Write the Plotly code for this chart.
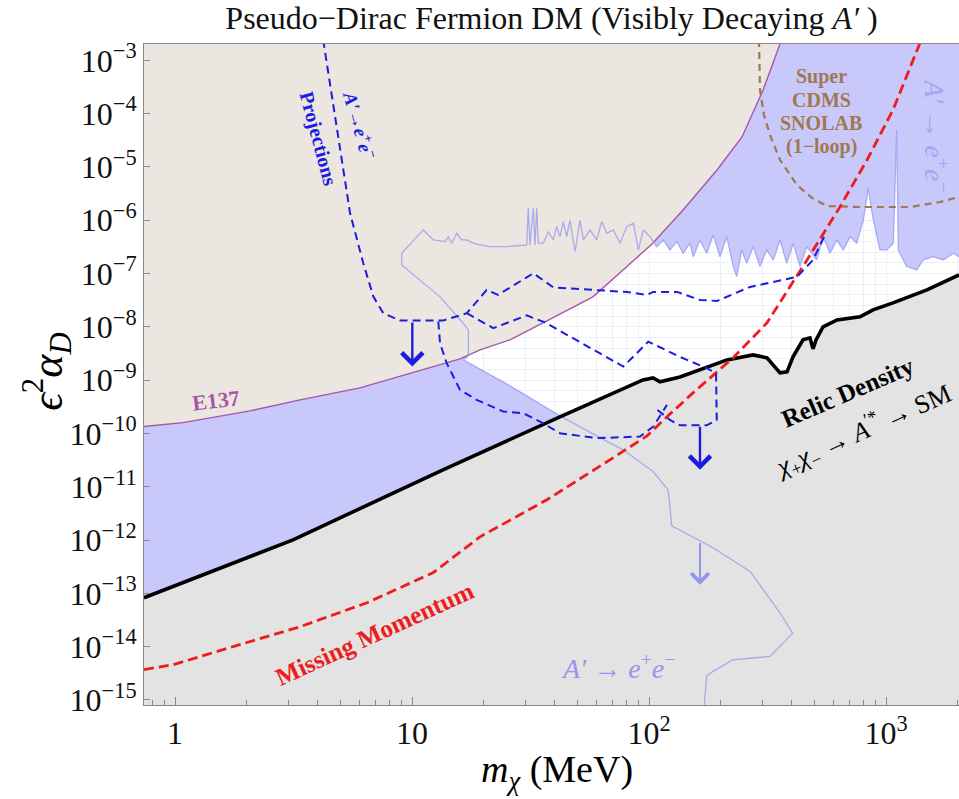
import math
import plotly.graph_objects as go

# ---------------- data (m_chi in MeV, y = eps^2 alpha_D) ----------------
# Relic density target (thick black)
relic_m = [0.740, 3.148, 13.51, 19.36, 42.1, 94.3, 104.0, 111.3, 135.1, 213.4, 274.7, 314.7, 357, 382.2,
           405.2, 446.4, 477.9, 492, 506.6, 542.4, 621.3, 776.9, 881.4, 1070, 1489, 2032]
relic_y = [8.26e-14, 1.01e-12, 2.08e-11, 4.33e-11, 2.05e-10, 1.01e-9, 1.10e-9, 9.29e-10, 1.15e-9, 2.40e-9,
           2.98e-9, 2.62e-9, 1.37e-9, 1.43e-9, 2.73e-9, 5.70e-9, 6.21e-9, 3.86e-9, 5.70e-9, 1.0e-8,
           1.35e-8, 1.54e-8, 2.08e-8, 2.81e-8, 4.93e-8, 9.42e-8]

# E137 limit
e137_m = [0.740, 1.081, 2.073, 3.37, 6.03, 10.1, 15.94, 19.36, 25.9, 35.7, 58.0, 77.7, 103.0, 139.2,
          193.6, 246.9, 303, 357]
e137_y = [1.35e-10, 1.60e-10, 2.65e-10, 4.27e-10, 7.16e-10, 1.37e-9, 2.51e-9, 3.70e-9, 5.70e-9, 1.19e-8,
          3.65e-8, 1.17e-7, 3.59e-7, 1.56e-6, 8.77e-6, 3.65e-5, 2.77e-4, 2.02e-3]

# Missing momentum projection (red dashed)
mm_m = [0.740, 0.981, 1.757, 3.37, 6.46, 12.27, 19.36, 37.1, 70.5, 98.1, 119.1, 153.3, 226.2, 314.7,
        464.2, 639.5, 831.4, 1070, 1391]
mm_y = [3.71e-15, 4.59e-15, 1.0e-14, 2.37e-14, 6.68e-14, 2.44e-13, 1.15e-12, 5.70e-12, 3.49e-11,
        9.02e-11, 2.05e-10, 5.77e-10, 2.62e-9, 1.19e-8, 1.80e-7, 1.78e-6, 1.35e-5, 1.17e-4, 2.11e-3]

# SuperCDMS SNOLAB (1-loop) (brown dashed)
cdms_m = [291.1, 294.0, 305.7, 324.0, 357, 421.3, 487.3, 563.8, 776.9, 1263, 1690, 2032]
cdms_y = [2.4e-3, 2.77e-4, 9.42e-5, 3.97e-5, 1.35e-5, 4.59e-6, 2.62e-6, 1.85e-6, 1.77e-6, 1.77e-6,
          2.20e-6, 2.73e-6]

# Existing A' -> e+e- constraint boundary (light blue)
bound_m = [170.7, 175.2, 186.2, 226.2, 324.0, 403.9, 357.0, 266.9, 186.2, 124.7, 121.8, 120.3, 104.0,
           77.7, 58.0, 42.1, 25.9, 16.47, 17.29, 17.29, 16.21, 13.13, 9.05, 9.05, 11.16, 12.30, 13.78,
           14.23, 14.71, 15.44, 16.21, 17.02, 18.14, 19.36, 21.34, 25.10, 30.48, 30.95, 31.47, 32.50,
           33.04, 33.59, 34.12, 35.81, 37.59, 39.46, 40.78, 42.1, 43.49, 44.96, 46.42, 48.73, 51.16,
           52.82, 56.37, 60.15, 63.15, 66.30, 70.70, 75.44, 80.52, 85.86, 90.13, 94.6, 101.0, 107.8,
           114.9, 122.6, 130.9, 139.6, 148.9, 153.8, 164.1, 175.2, 186.7, 199.4, 212.8, 226.9, 234.4,
           246.1, 258.4, 275.5, 294.0, 313.8, 334.6, 357.0, 381.1, 406.3, 433.6, 462.9, 510.2, 543.7,
           580.4, 619.5, 660.3, 704.8, 752.1, 802.1, 842.1, 883.9, 943.4, 1007, 1074, 1109, 1127,
           1223, 1347, 1437, 1584, 1745, 1923, 2032]
bound_y = [7e-16, 2.85e-15, 3.44e-15, 5.69e-15, 6.56e-15, 1.80e-14, 4.33e-14, 2.58e-13, 7.16e-13,
           1.85e-12, 5.69e-12, 8.77e-12, 1.93e-11, 4.93e-11, 9.84e-11, 2.14e-10, 7.82e-10, 2.40e-9,
           2.85e-9, 8.77e-9, 1.26e-8, 3.65e-8, 1.45e-7, 2.40e-7, 6.58e-7, 4.27e-7, 3.97e-7, 4.92e-7,
           3.71e-7, 5.70e-7, 4.27e-7, 4.27e-7, 3.71e-7, 3.44e-7, 3.20e-7, 3.20e-7, 3.44e-7, 1.68e-6,
           3.44e-7, 1.68e-6, 3.44e-7, 1.68e-6, 3.71e-7, 3.71e-7, 6.11e-7, 4.27e-7, 7.59e-7, 4.92e-7,
           9.42e-7, 4.92e-7, 1.01e-6, 2.58e-7, 1.01e-6, 4.27e-7, 6.58e-7, 4.27e-7, 9.42e-7, 5.70e-7,
           6.58e-7, 3.71e-7, 7.59e-7, 8.79e-7, 2.77e-7, 6.58e-7, 4.92e-7, 3.20e-7, 4.27e-7, 2.77e-7,
           3.97e-7, 2.40e-7, 3.71e-7, 2.07e-7, 4.27e-7, 2.40e-7, 5.30e-7, 2.07e-7, 4.92e-7, 1.35e-7,
           8.75e-8, 2.77e-7, 1.56e-7, 3.20e-7, 1.35e-7, 2.77e-7, 1.80e-7, 4.27e-7, 1.56e-7, 3.71e-7,
           1.35e-7, 3.20e-7, 1.80e-7, 4.92e-7, 2.40e-7, 4.27e-7, 2.77e-7, 4.92e-7, 3.71e-7, 1.01e-6,
           3.98e-6, 1.01e-6, 2.77e-7, 2.77e-7, 3.71e-7, 4.93e-5, 2.77e-7, 1.35e-7, 1.17e-7, 1.80e-7,
           2.07e-7, 1.80e-7, 2.40e-7, 2.07e-7]

# A' -> e+e- projections (dark blue dashed)
proj_a_m = [4.22, 4.83, 5.48, 6.23, 6.87, 7.57, 8.90, 13.51, 17.02, 20.66, 23.06, 32.50, 39.46, 58.0,
            80.8, 98.1, 104.0, 131.3, 164.1, 193.6, 266.9, 367.7, 421.3, 492.0, 553.0]
proj_a_y = [2.4e-3, 4.93e-5, 1.35e-6, 1.56e-7, 3.69e-8, 1.80e-8, 1.31e-8, 1.31e-8, 1.80e-8, 4.93e-8,
            3.97e-8, 1.01e-7, 5.50e-8, 4.93e-8, 4.52e-8, 3.97e-8, 4.52e-8, 4.52e-8, 3.20e-8, 3.06e-8,
            5.61e-8, 7.59e-8, 8.65e-8, 1.80e-7, 5.30e-7]
proj_b_m = [17.02, 22.03, 30.48, 36.4, 77.9, 99.3, 135.1, 175.2, 191.8, 193.1, 175.2, 135.1, 122.6, 107.0]
proj_b_y = [1.80e-8, 9.44e-9, 1.64e-8, 1.21e-8, 1.80e-9, 5.28e-9, 2.73e-9, 1.68e-9, 1.35e-9, 1.80e-10,
            1.42e-10, 1.42e-10, 1.80e-10, 2.90e-10]
proj_c_m = [12.91, 13.13, 14.01, 15.94, 18.75, 24.28, 29.48, 34.68, 42.1, 60.15, 91.6, 104.3, 119.1]
proj_c_y = [1.26e-8, 4.93e-9, 2.08e-9, 6.58e-10, 4.27e-10, 2.58e-10, 2.40e-10, 1.67e-10, 1.01e-10,
            8.17e-11, 8.75e-11, 1.35e-10, 3.44e-10]

# Downward arrows (mass, start, tip)
arrow_m = [10.03, 164.1]
arrow_from = [1.29e-8, 1.42e-10]
arrow_to = [1.80e-9, 2.08e-11]
light_arrow_m = [164.1]
light_arrow_from = [9.40e-13]
light_arrow_to = [1.45e-13]

# Axis ticks
x_tickvals = [1, 10, 100, 1000]
x_ticktext = ["1", "10", "10<sup>2</sup>", "10<sup>3</sup>"]
y_exponents = list(range(-15, -2))
y_tickvals = [10.0 ** e for e in y_exponents]
y_ticktext = ["10<sup>\u2212%d</sup>" % (-e) for e in y_exponents]

# ---------------- styling ----------------
FONT = "Liberation Serif, Times New Roman, DejaVu Serif, serif"
BEIGE = "#ece6e0"
BLUE_FILL = "#c8c8fa"
GRAY_FILL = "#e3e3e3"
LIGHT_BLUE = "rgba(150,150,240,0.75)"
DARK_BLUE = "#1c1ce0"
RED = "#ee1c1c"
BROWN = "#a07850"
PURPLE = "#a855a8"

X_RANGE = [-0.1308, 3.308]
Y_RANGE = [-15.094, -2.694]
X_FAR = [0.1, 1e4]
Y_FAR = [1e-17, 1.0]

fig = go.Figure()

def add(x, y, **kw):
    fig.add_trace(go.Scatter(x=x, y=y, hoverinfo="skip", showlegend=False, **kw))

# blue excluded region (left/above the light-blue boundary)
add([bound_m[0]] + bound_m + [X_FAR[1], X_FAR[1], X_FAR[0], X_FAR[0]],
    [Y_FAR[0]] + bound_y + [bound_y[-1], Y_FAR[1], Y_FAR[1], Y_FAR[0]],
    mode="lines", fill="toself", fillcolor=BLUE_FILL, line=dict(width=0))
# gray region below relic line
add(relic_m + [X_FAR[1], X_FAR[1], X_FAR[0], X_FAR[0]],
    relic_y + [relic_y[-1], Y_FAR[0], Y_FAR[0], relic_y[0]],
    mode="lines", fill="toself", fillcolor=GRAY_FILL, line=dict(width=0))
# E137 region
add(e137_m + [e137_m[-1], X_FAR[0], X_FAR[0]],
    e137_y + [Y_FAR[1], Y_FAR[1], e137_y[0]],
    mode="lines", fill="toself", fillcolor=BEIGE, line=dict(width=0))

add(e137_m, e137_y, mode="lines", line=dict(color=PURPLE, width=1.4))
add(bound_m, bound_y, mode="lines", line=dict(color=LIGHT_BLUE, width=1.3))
add(relic_m, relic_y, mode="lines", line=dict(color="black", width=3.6))
add(cdms_m, cdms_y, mode="lines", line=dict(color=BROWN, width=2.2, dash="7px,5px"))
add(mm_m, mm_y, mode="lines", line=dict(color=RED, width=2.8, dash="10px,5px"))
add(proj_a_m, proj_a_y, mode="lines", line=dict(color=DARK_BLUE, width=2.0, dash="8px,5px"))
add(proj_b_m, proj_b_y, mode="lines", line=dict(color=DARK_BLUE, width=2.0, dash="8px,5px"))
add(proj_c_m, proj_c_y, mode="lines", line=dict(color=DARK_BLUE, width=2.0, dash="8px,5px"))

annotations = []
for m, y0, y1 in zip(arrow_m, arrow_from, arrow_to):
    annotations.append(dict(x=math.log10(m), y=math.log10(y1), ax=math.log10(m), ay=math.log10(y0),
                            xref="x", yref="y", axref="x", ayref="y", text="", showarrow=True,
                            arrowhead=4, arrowsize=1.7, arrowwidth=2.4, arrowcolor=DARK_BLUE, standoff=0))
for m, y0, y1 in zip(light_arrow_m, light_arrow_from, light_arrow_to):
    annotations.append(dict(x=math.log10(m), y=math.log10(y1), ax=math.log10(m), ay=math.log10(y0),
                            xref="x", yref="y", axref="x", ayref="y", text="", showarrow=True,
                            arrowhead=4, arrowsize=1.7, arrowwidth=2.0, arrowcolor="rgba(140,140,240,0.9)",
                            standoff=0))

def label(text, x, y, size, color, angle=0):
    annotations.append(dict(text=text, x=x, y=y, xref="paper", yref="paper", showarrow=False,
                            xanchor="center", yanchor="middle", textangle=angle,
                            font=dict(family=FONT, size=size, color=color)))

label("<b><i>A\u2032</i>\u2192<i>e</i><sup>+</sup><i>e</i><sup>\u2212</sup></b>", 0.265, 0.8775, 19, DARK_BLUE, 74)
label("<b>Projections</b>", 0.2129, 0.8578, 20, DARK_BLUE, 75)
label("<b>Super</b>", 0.8307, 0.9501, 20, BROWN)
label("<b>CDMS</b>", 0.8307, 0.9153, 20, BROWN)
label("<b>SNOLAB</b>", 0.8307, 0.8812, 20, BROWN)
label("<b>(1\u2212loop)</b>", 0.8307, 0.8449, 20, BROWN)
label("<i>A\u2032</i> \u2192 <i>e</i><sup>+</sup><i>e</i><sup>\u2212</sup>", 0.973, 0.862, 28, "#a4a4f4", 90)
label("<i>A\u2032</i> \u2192 <i>e</i><sup>+</sup><i>e</i><sup>\u2212</sup>", 0.5816, 0.0575, 28, "#9696ee")
label("<b>E137</b>", 0.0883, 0.4614, 22, PURPLE, -7)
label("<b>Missing Momentum</b>", 0.2834, 0.1089, 25, RED, -24.6)
label("<b>Relic Density</b>", 0.8626, 0.4735, 25, "black", -23.3)
label("<i>\u03c7</i><sub>+</sub><i>\u03c7</i><sub>\u2212</sub> \u2192 <i>A</i><sup>\u2032*</sup> \u2192 SM",
      0.8822, 0.416, 26, "black", -24)
# axis titles
label("<i>\u03f5</i><sup>2</sup><i>\u03b1</i><sub><i>D</i></sub>", -0.119, 0.504, 44, "black", -90)
label("<i>m</i><sub><i>\u03c7</i></sub> (MeV)", 0.507, -0.102, 38, "black")

GRID = "#eeeef6"
x_minor = [k * 10.0 ** n for n in range(-1, 4) for k in range(2, 10)]
y_minor = [10.0 ** (n + f / 5.0) for n in range(-16, -2) for f in range(1, 5)]

fig.update_layout(
    width=959, height=799,
    margin=dict(l=144, r=0, t=44, b=94, autoexpand=False),
    paper_bgcolor="white", plot_bgcolor="white",
    title=dict(text="Pseudo\u2212Dirac Fermion DM (Visibly Decaying <i>A\u2032</i> )",
               x=0.5, xref="paper", xanchor="center", y=1 - 18 / 799, yanchor="middle",
               font=dict(family=FONT, size=32, color="#111")),
    annotations=annotations,
    xaxis=dict(type="log", range=X_RANGE, tickmode="array", tickvals=x_tickvals, ticktext=x_ticktext,
               ticks="inside", ticklen=8, tickcolor="#888", showline=True, linecolor="#888",
               linewidth=1, mirror=True, showgrid=True, gridcolor=GRID, zeroline=False, automargin=False,
               tickfont=dict(family=FONT, size=32, color="#111"),
               minor=dict(tickmode="array", tickvals=x_minor, ticks="inside", ticklen=5,
                          tickcolor="#888", showgrid=True, gridcolor=GRID)),
    yaxis=dict(type="log", range=Y_RANGE, tickmode="array", tickvals=y_tickvals, ticktext=y_ticktext,
               ticks="inside", ticklen=6, tickcolor="#888", showline=True, linecolor="#888",
               linewidth=1, mirror=True, showgrid=True, gridcolor=GRID, zeroline=False, automargin=False,
               tickfont=dict(family=FONT, size=32, color="#111"),
               minor=dict(tickmode="array", tickvals=y_minor, ticks="", showgrid=True, gridcolor=GRID)),
)

fig.write_html("out.html", config={"displayModeBar": False},
               post_script="document.body.style.margin='0';document.body.style.overflow='hidden';")
